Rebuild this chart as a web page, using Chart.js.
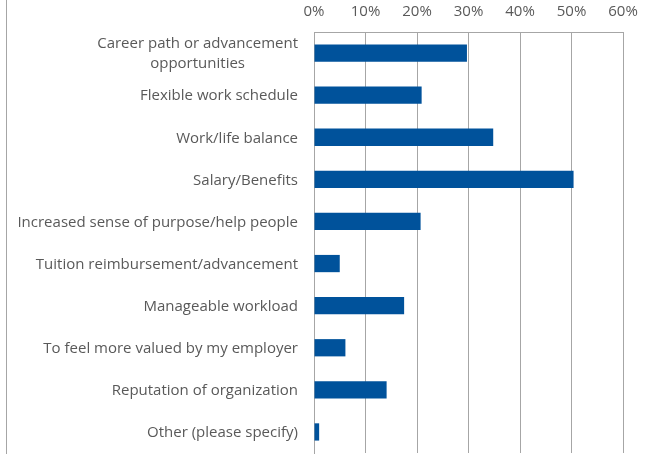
<!DOCTYPE html>
<html>
<head>
<meta charset="utf-8">
<script src="https://cdn.jsdelivr.net/npm/chart.js@4/dist/chart.umd.min.js"></script>
<style>
  html, body { margin: 0; padding: 0; background: #fff; }
  #wrap { width: 650px; height: 454px; position: relative; }
</style>
</head>
<body>
<div id="wrap"><canvas id="chart"></canvas></div>
<script>
// motivos (valores em %)
const categorias = [
  ["Career path or advancement", "opportunities"],
  "Flexible work schedule",
  "Work/life balance",
  "Salary/Benefits",
  "Increased sense of purpose/help people",
  "Tuition reimbursement/advancement",
  "Manageable workload",
  "To feel more valued by my employer",
  "Reputation of organization",
  "Other (please specify)"
];
const valores = [29.7, 20.9, 34.8, 50.4, 20.7, 5.0, 17.5, 6.1, 14.1, 1.0];
const ticksX = [0, 10, 20, 30, 40, 50, 60];

const corTexto = "#595959";
const corGrade = "#a6a6a6";

// rótulos do eixo y: bloco alinhado à direita, linhas centralizadas entre si
const rotulosBloco = {
  id: "rotulosBloco",
  afterDraw(chart) {
    const ctx = chart.ctx;
    const y = chart.scales.y;
    const direita = chart.chartArea.left - 16;
    const alturaLinha = 20;
    ctx.save();
    ctx.font = "15px 'Open Sans'";
    ctx.fillStyle = corTexto;
    ctx.textAlign = "center";
    ctx.textBaseline = "middle";
    categorias.forEach((cat, i) => {
      const linhas = Array.isArray(cat) ? cat : [cat];
      const largura = Math.max(...linhas.map(l => ctx.measureText(l).width));
      const cx = direita - largura / 2;
      const cy = y.getPixelForValue(i) + 1;
      linhas.forEach((l, j) => {
        ctx.fillText(l, cx, cy + (j - (linhas.length - 1) / 2) * alturaLinha);
      });
    });
    // borda esquerda da moldura
    ctx.strokeStyle = corGrade;
    ctx.lineWidth = 1;
    ctx.beginPath();
    ctx.moveTo(6.5, 0);
    ctx.lineTo(6.5, chart.height);
    ctx.stroke();
    ctx.restore();
  }
};

const ctx = document.getElementById("chart").getContext("2d");
new Chart(ctx, {
  type: "bar",
  data: {
    labels: categorias,
    datasets: [{
      data: valores,
      backgroundColor: "#00529b",
      borderWidth: 0,
      barPercentage: 0.41,
      categoryPercentage: 1
    }]
  },
  options: {
    indexAxis: "y",
    responsive: true,
    maintainAspectRatio: false,
    animation: false,
    layout: { padding: { top: 0, right: 27, bottom: 1, left: 0 } },
    plugins: { legend: { display: false }, tooltip: { enabled: false } },
    scales: {
      x: {
        position: "top",
        min: 0,
        max: 60,
        afterBuildTicks: s => { s.ticks = ticksX.map(v => ({ value: v })); },
        afterFit: s => { s.height = 32; },
        grid: { color: corGrade, drawTicks: false },
        border: { color: corGrade },
        ticks: {
          padding: 11,
          color: corTexto,
          font: { family: "'Open Sans'", size: 15 },
          callback: v => v + "%"
        }
      },
      y: {
        afterFit: s => { s.width = 314; },
        grid: { display: false },
        border: { color: corGrade },
        ticks: { display: false }
      }
    }
  },
  plugins: [rotulosBloco]
});
</script>
</body>
</html>
